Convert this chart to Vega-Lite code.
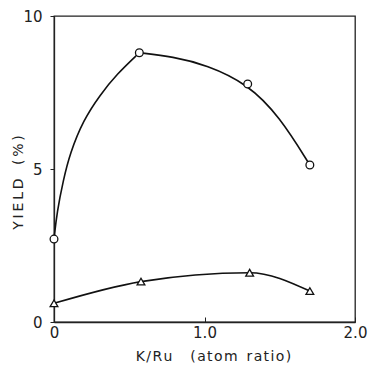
{
  "$schema": "https://vega.github.io/schema/vega-lite/v6.json",
  "width": 301,
  "height": 306,
  "autosize": "none",
  "padding": {"left": 54, "top": 16, "right": 14, "bottom": 45},
  "background": "white",
  "config": {
    "view": {"stroke": "#222", "strokeWidth": 1.3},
    "axis": {
      "grid": false,
      "domainColor": "#222",
      "domainWidth": 1.3,
      "tickColor": "#222",
      "labelFont": "DejaVu Sans",
      "titleFont": "DejaVu Sans",
      "labelColor": "#222",
      "titleColor": "#222",
      "labelFontSize": 15,
      "titleFontSize": 14,
      "titleFontWeight": "normal"
    }
  },
  "datasets": {
    "points": [
      {"series": "circle", "x": 0, "y": 2.71},
      {"series": "circle", "x": 0.567, "y": 8.8},
      {"series": "circle", "x": 1.287, "y": 7.78},
      {"series": "circle", "x": 1.7, "y": 5.13},
      {"series": "triangle", "x": 0, "y": 0.61},
      {"series": "triangle", "x": 0.578, "y": 1.32},
      {"series": "triangle", "x": 1.3, "y": 1.61},
      {"series": "triangle", "x": 1.7, "y": 1.01}
    ],
    "circleCurve": [
      {"seg": "a", "x": 0, "y": 2.71},
      {"seg": "a", "x": 0.02, "y": 3.6},
      {"seg": "a", "x": 0.062, "y": 4.64},
      {"seg": "a", "x": 0.106, "y": 5.51},
      {"seg": "a", "x": 0.195, "y": 6.6},
      {"seg": "a", "x": 0.306, "y": 7.42},
      {"seg": "a", "x": 0.417, "y": 8.1},
      {"seg": "a", "x": 0.567, "y": 8.8},
      {"seg": "b", "x": 0.567, "y": 8.8},
      {"seg": "b", "x": 0.79, "y": 8.67},
      {"seg": "b", "x": 1.015, "y": 8.4},
      {"seg": "b", "x": 1.287, "y": 7.78},
      {"seg": "b", "x": 1.5, "y": 6.71},
      {"seg": "b", "x": 1.7, "y": 5.13}
    ]
  },
  "encoding": {
    "x": {
      "field": "x", "type": "quantitative",
      "scale": {"domain": [0, 2], "nice": false},
      "axis": {
        "values": [0, 1, 2],
        "labelExpr": "datum.value == 0 ? '0' : format(datum.value, '.1f')",
        "tickSize": -5,
        "labelPadding": 8,
        "labelFlush": false,
        "title": "K\u200a/\u200aR\u200au\u00a0\u00a0\u00a0\u00a0(\u200aa\u200at\u200ao\u200am\u00a0\u00a0r\u200aa\u200at\u200ai\u200ao\u200a)",
        "titleX": 159,
        "titleY": 34,
        "titleBaseline": "middle"
      }
    },
    "y": {
      "field": "y", "type": "quantitative",
      "scale": {"domain": [0, 10], "nice": false},
      "axis": {
        "values": [0, 5, 10],
        "tickSize": 4,
        "labelPadding": 8,
        "labelFlush": false,
        "title": "Y\u2009I\u2009E\u2009L\u2009D\u00a0\u00a0\u00a0(\u2009%\u2009)",
        "titleX": -36,
        "titleY": 166,
        "titleBaseline": "middle"
      }
    }
  },
  "layer": [
    {
      "data": {"name": "circleCurve"},
      "mark": {"type": "line", "interpolate": "basis", "color": "#111", "strokeWidth": 1.6},
      "encoding": {"detail": {"field": "seg"}}
    },
    {
      "data": {"name": "points"},
      "transform": [{"filter": "datum.series == 'triangle'"}],
      "mark": {"type": "line", "interpolate": "monotone", "color": "#111", "strokeWidth": 1.6},
      "encoding": {}
    },
    {
      "data": {"name": "points"},
      "mark": {"type": "point", "filled": true, "fill": "white", "stroke": "#111", "strokeWidth": 1.3, "size": 60, "opacity": 1},
      "encoding": {
        "shape": {
          "field": "series", "type": "nominal",
          "scale": {"domain": ["circle", "triangle"], "range": ["circle", "triangle-up"]},
          "legend": null
        }
      }
    }
  ]
}
